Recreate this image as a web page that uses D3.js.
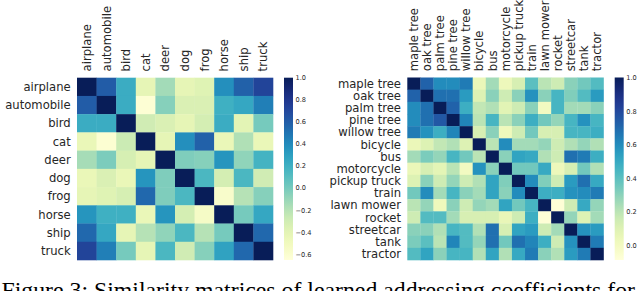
<!DOCTYPE html>
<html>
<head>
<meta charset="utf-8">
<script src="https://cdn.jsdelivr.net/npm/d3@7"></script>
<style>
  html, body { margin: 0; padding: 0; background: #fff; }
  svg { display: block; }
</style>
</head>
<body>
<svg id="chart" width="640" height="291"></svg>
<script>
// ---------- DATA ----------
const leftLabels = ["airplane","automobile","bird","cat","deer","dog","frog","horse","ship","truck"];
const leftValues = [
  [ 1.00, 0.60, 0.22,-0.42,-0.14,-0.42,-0.38, 0.38, 0.58, 0.72],
  [ 0.60, 1.00, 0.22,-0.63,-0.05,-0.35,-0.35, 0.20, 0.25, 0.45],
  [ 0.22, 0.22, 1.00,-0.30,-0.35,-0.42,-0.32, 0.22,-0.40, 0.00],
  [-0.45,-0.62,-0.28, 1.00,-0.42, 0.38, 0.58,-0.45,-0.18,-0.45],
  [-0.15,-0.02,-0.33,-0.42, 1.00,-0.03,-0.05, 0.35,-0.08, 0.18],
  [-0.45,-0.35,-0.45, 0.35,-0.03, 1.00, 0.15,-0.32, 0.15,-0.30],
  [-0.42,-0.38,-0.33, 0.55,-0.03, 0.15, 1.00,-0.58,-0.20,-0.05],
  [ 0.35, 0.20, 0.20,-0.45, 0.35,-0.32,-0.55, 1.00, 0.00, 0.25],
  [ 0.55, 0.25,-0.42,-0.20,-0.08, 0.15,-0.20, 0.00, 1.00, 0.55],
  [ 0.72, 0.45, 0.00,-0.42, 0.15,-0.30,-0.05, 0.28, 0.55, 1.00]
];
const leftRange = [-0.655, 1.0];
const leftTicks = [-0.6,-0.4,-0.2,0.0,0.2,0.4,0.6,0.8,1.0];

const rightLabels = ["maple tree","oak tree","palm tree","pine tree","willow tree","bicycle","bus","motorcycle","pickup truck","train","lawn mower","rocket","streetcar","tank","tractor"];
const rightValues = [
  [1.00,0.72,0.60,0.60,0.65,0.04,0.25,0.03,0.12,0.40,0.20,0.15,0.30,0.35,0.42],
  [0.72,1.00,0.68,0.68,0.55,0.10,0.30,0.15,0.30,0.58,0.30,0.45,0.32,0.42,0.55],
  [0.60,0.68,1.00,0.72,0.48,0.18,0.22,0.08,0.15,0.30,0.00,0.45,0.25,0.25,0.30],
  [0.60,0.68,0.75,1.00,0.62,0.20,0.45,0.20,0.30,0.48,0.35,0.28,0.45,0.58,0.45],
  [0.65,0.58,0.48,0.62,1.00,0.12,0.30,0.02,0.15,0.35,0.12,0.12,0.45,0.45,0.48],
  [0.04,0.10,0.18,0.22,0.10,1.00,0.20,0.60,0.25,0.25,0.28,0.15,0.22,0.28,0.22],
  [0.25,0.33,0.28,0.45,0.35,0.20,1.00,0.30,0.52,0.50,0.22,0.15,0.68,0.65,0.48],
  [0.04,0.12,0.07,0.20,0.00,0.58,0.30,1.00,0.35,0.35,0.50,0.03,0.12,0.35,0.22],
  [0.10,0.30,0.15,0.28,0.15,0.22,0.52,0.32,1.00,0.60,0.32,0.15,0.55,0.68,0.50],
  [0.35,0.60,0.25,0.45,0.30,0.25,0.52,0.30,0.60,1.00,0.48,0.48,0.58,0.60,0.65],
  [0.20,0.28,0.02,0.30,0.15,0.28,0.25,0.52,0.35,0.45,1.00,-0.08,0.15,0.50,0.28],
  [0.15,0.42,0.42,0.25,0.12,0.12,0.12,0.05,0.15,0.48,-0.08,1.00,0.28,0.10,0.25],
  [0.30,0.30,0.22,0.45,0.42,0.22,0.68,0.12,0.52,0.55,0.15,0.25,1.00,0.58,0.55],
  [0.33,0.40,0.20,0.62,0.42,0.28,0.68,0.35,0.68,0.62,0.48,0.15,0.58,1.00,0.65],
  [0.42,0.52,0.30,0.45,0.45,0.22,0.52,0.22,0.50,0.65,0.30,0.22,0.55,0.65,1.00]
];
const rightRange = [-0.09, 1.0];
const rightTicks = [0.0,0.2,0.4,0.6,0.8,1.0];

const caption = "Figure 3: Similarity matrices of learned addressing coefficients for";

// ---------- DRAW ----------
const svg = d3.select("#chart");
const labelColor = "#262626";
const fmt = d3.format(".1f");
const defs = svg.append("defs");

function heatmap(cfg) {
  const {labels, values, range, ticks, x0, x1, y0, y1, cbX0, cbX1, id} = cfg;
  const x = d3.scaleBand().domain(labels).range([x0, x1]).padding(0);
  const y = d3.scaleBand().domain(labels).range([y0, y1]).padding(0);
  const color = d3.scaleSequential(d3.interpolateYlGnBu).domain(range);
  const g = svg.append("g");

  const cells = [];
  values.forEach((row, i) => row.forEach((v, j) => cells.push({r: labels[i], c: labels[j], v})));
  g.selectAll("rect.cell").data(cells).join("rect")
    .attr("class", "cell")
    .attr("x", d => x(d.c))
    .attr("y", d => y(d.r))
    .attr("width", x.bandwidth() + 0.3)
    .attr("height", y.bandwidth() + 0.3)
    .attr("fill", d => color(d.v));

  // row labels
  g.selectAll("text.row").data(labels).join("text")
    .attr("class", "row")
    .attr("x", x0 - 6.3)
    .attr("y", d => y(d) + y.bandwidth() / 2)
    .attr("dy", "0.36em")
    .attr("text-anchor", "end")
    .attr("font-family", "DejaVu Sans")
    .attr("font-size", 11.6)
    .attr("fill", labelColor)
    .text(d => d);

  // column labels
  g.selectAll("text.col").data(labels).join("text")
    .attr("class", "col")
    .attr("transform", d => `translate(${x(d) + x.bandwidth() / 2},${y0 - 6.3}) rotate(-90)`)
    .attr("dy", "0.36em")
    .attr("text-anchor", "start")
    .attr("font-family", "DejaVu Sans")
    .attr("font-size", 11.6)
    .attr("fill", labelColor)
    .text(d => d);

  // colorbar
  const cy = d3.scaleLinear().domain(range).range([y1, y0]);
  const grad = defs.append("linearGradient").attr("id", id)
    .attr("x1", 0).attr("y1", 1).attr("x2", 0).attr("y2", 0);
  d3.range(0, 1.0001, 0.02).forEach(t => {
    grad.append("stop").attr("offset", t).attr("stop-color", color(range[0] + t * (range[1] - range[0])));
  });
  g.append("rect")
    .attr("x", cbX0).attr("y", y0)
    .attr("width", cbX1 - cbX0).attr("height", y1 - y0)
    .attr("fill", `url(#${id})`);

  const axis = d3.axisRight(cy).tickValues(ticks).tickFormat(fmt).tickSize(0).tickPadding(2.5);
  const ag = g.append("g").attr("transform", `translate(${cbX1},0)`).call(axis);
  ag.select(".domain").remove();
  ag.selectAll("text")
    .attr("font-family", "DejaVu Sans")
    .attr("font-size", 6.6)
    .attr("fill", labelColor);
}

heatmap({labels: leftLabels, values: leftValues, range: leftRange, ticks: leftTicks,
  x0: 77, x1: 273, y0: 77.7, y1: 260, cbX0: 284, cbX1: 293, id: "gradL"});
heatmap({labels: rightLabels, values: rightValues, range: rightRange, ticks: rightTicks,
  x0: 407.3, x1: 603.5, y0: 77.5, y1: 260, cbX0: 614.7, cbX1: 623.7, id: "gradR"});

// caption
const cap = svg.append("text")
  .attr("x", 1.5)
  .attr("y", 294)
  .attr("font-family", "Liberation Serif")
  .attr("font-size", 17)
  .attr("fill", "#000")
  .text(caption);
const w = cap.node().getComputedTextLength();
const fs = 17 * 634 / w;
cap.attr("font-size", fs).attr("y", 282 + fs * 0.66);
</script>
</body>
</html>
